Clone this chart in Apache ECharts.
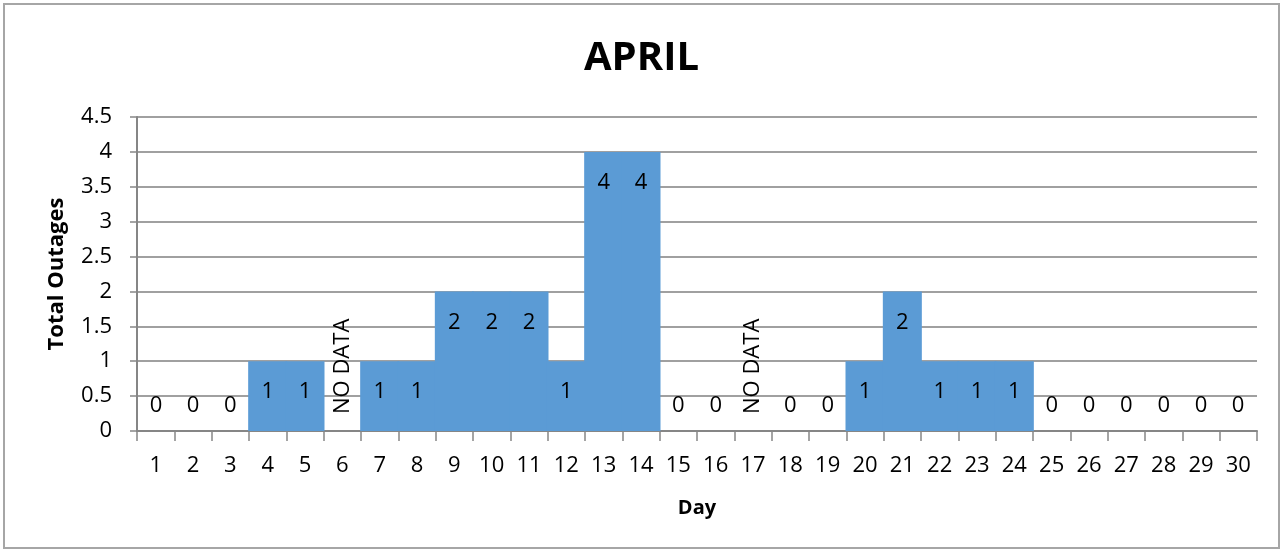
<!DOCTYPE html>
<html>
<head>
<meta charset="utf-8">
<script src="https://cdn.jsdelivr.net/npm/echarts@6/dist/echarts.min.js"></script>
<style>
html,body{margin:0;padding:0;background:#fff;}
#c{width:1283px;height:552px;}
</style>
</head>
<body>
<div id="c"></div>
<script>
const days = ['1','2','3','4','5','6','7','8','9','10','11','12','13','14','15','16','17','18','19','20','21','22','23','24','25','26','27','28','29','30'];
const outages = [0,0,0,1,1,0,1,1,2,2,2,1,4,4,0,0,0,0,0,1,2,1,1,1,0,0,0,0,0,0];
const noDataDays = ['6','17'];
const yTicks = [0,0.5,1,1.5,2,2.5,3,3.5,4,4.5];

const FONT = 'Open Sans';
const data = outages.map((v, i) => {
  const d = days[i];
  if (noDataDays.includes(d)) {
    return {value: v, label: {show: true, formatter: 'NO DATA', position: 'insideBottom', rotate: 90, align: 'left', verticalAlign: 'middle', distance: 17}};
  }
  if (v === 0) {
    return {value: v, label: {show: true, position: 'top', distance: 14}};
  }
  return {value: v, label: {show: true, position: 'insideTop', distance: 20}};
});

const chart = echarts.init(document.getElementById('c'));
chart.setOption({
  animation: false,
  title: {text: 'APRIL', left: 'center', top: 34, textStyle: {fontFamily: FONT, fontWeight: 'bold', fontSize: 40, color: '#000'}},
  graphic: [{type: 'rect', shape: {x: 4, y: 4, width: 1275, height: 544}, style: {fill: null, stroke: '#a6a6a6', lineWidth: 2}, silent: true}],
  grid: {left: 137, right: 26, top: 117, bottom: 121},
  xAxis: {
    type: 'category', data: days,
    name: 'Day', nameLocation: 'middle', nameGap: 67,
    nameTextStyle: {fontFamily: FONT, fontWeight: 'bold', fontSize: 20, color: '#000'},
    axisLine: {lineStyle: {color: '#868686', width: 2}},
    axisTick: {show: true, length: 10, lineStyle: {color: '#868686', width: 1.5}},
    axisLabel: {fontFamily: FONT, fontSize: 22, color: '#000', margin: 24, interval: 0}
  },
  yAxis: {
    type: 'value', min: 0, max: 4.5, interval: 0.5,
    name: 'Total Outages', nameLocation: 'middle', nameGap: 69,
    nameTextStyle: {fontFamily: FONT, fontWeight: 'bold', fontSize: 22, color: '#000'},
    axisLine: {show: true, lineStyle: {color: '#868686', width: 2}},
    axisTick: {show: true, length: 7, lineStyle: {color: '#868686', width: 1.5}},
    splitLine: {lineStyle: {color: '#a0a0a0', width: 2}},
    axisLabel: {fontFamily: FONT, fontSize: 22, color: '#000', margin: 25,
      formatter: v => yTicks.includes(v) ? String(v) : ''}
  },
  series: [{
    type: 'bar', data: data, barWidth: 39, barGap: '0%',
    itemStyle: {color: '#5B9BD5'},
    label: {show: true, fontFamily: FONT, fontSize: 22, color: '#000'}
  }]
});
</script>
</body>
</html>
